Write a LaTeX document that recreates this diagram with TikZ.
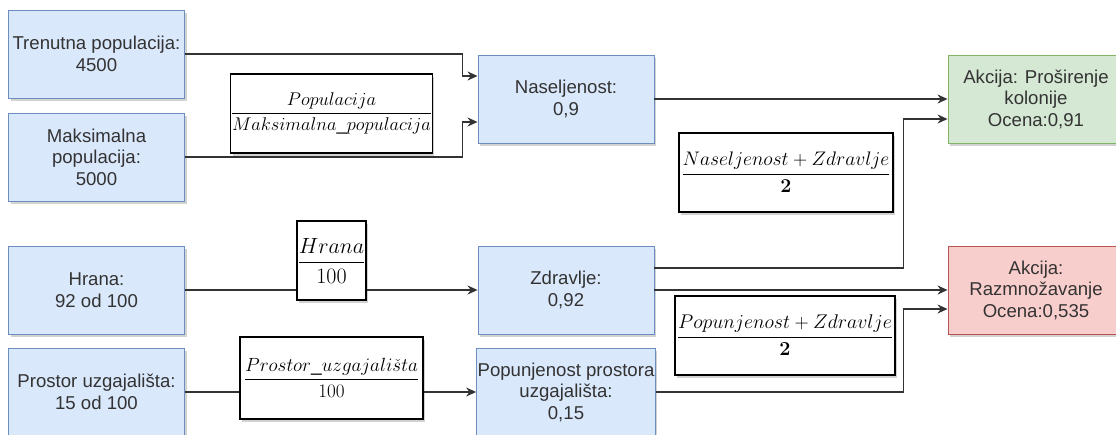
\RequirePackage{fix-cm}
\documentclass[tikz,border=0pt]{standalone}
\usepackage{amsmath}
\usepackage[no-math]{fontspec}
\setmainfont{Liberation Sans}
\usetikzlibrary{arrows.meta,shadows,calc}
\definecolor{bfill}{HTML}{DAE8FC}
\definecolor{bline}{HTML}{6C8EBF}
\definecolor{gfill}{HTML}{D5E8D4}
\definecolor{gline}{HTML}{82B366}
\definecolor{rfill}{HTML}{F8CECC}
\definecolor{rline}{HTML}{B85450}
\definecolor{txt}{HTML}{333333}
\definecolor{lc}{HTML}{333333}
\begin{document}
\begin{tikzpicture}[x=1pt,y=-1pt,
  shad/.style={drop shadow={shadow xshift=2pt,shadow yshift=-3pt,opacity=0.25,fill=black!70}},
  base/.style={shad,minimum width=176pt,minimum height=88pt,inner sep=1pt,align=center,text=txt,font=\fontsize{18.6}{21.5}\selectfont,line width=0.9pt},
  bluebox/.style={base,fill=bfill,draw=bline},
  greenbox/.style={base,fill=gfill,draw=gline},
  redbox/.style={base,fill=rfill,draw=rline},
  fbox/.style={shad,draw=black,fill=white,line width=1.2pt,minimum height=79pt,inner sep=0pt,font=\fontsize{#1}{#1}\selectfont},
  arr/.style={-{Stealth[length=10pt,width=9pt]},line width=1.4pt,draw=lc},
  ln/.style={line width=1.4pt,draw=lc}]
\useasboundingbox (0,0) rectangle (1116,434);
% input boxes
\node[bluebox] (tp) at (96.5,54) {Trenutna populacija:\\4500};
\node[bluebox] (mp) at (96.5,157) {Maksimalna\\populacija:\\5000};
\node[bluebox] (hr) at (96.5,290) {Hrana:\\92 od 100};
\node[bluebox] (pu) at (96.5,392) {Prostor uzgajališta:\\15 od 100};
% middle boxes
\node[bluebox] (nas) at (566,99) {Naseljenost:\\0,9};
\node[bluebox] (zd) at (566,290) {Zdravlje:\\0,92};
\node[bluebox] (pop) at (566,392) {Popunjenost prostora\\uzgajališta:\\0,15};
% action boxes
\node[greenbox] (gr) at (1036,99) {Akcija: Proširenje\\kolonije\\Ocena:0,91};
\node[redbox] (rd) at (1036,290) {Akcija:\\Razmnožavanje\\Ocena:0,535};
% formula boxes
\node[fbox=18.4,minimum width=199pt] (f1) at (331.5,113.5) {$\dfrac{Populacija}{Maksimalna\_populacija}$};
\node[fbox=19.6,minimum width=214pt] (f2) at (786,172.5) {$\dfrac{Naseljenost+Zdravlje}{\mathbf{2}}$};
\node[fbox=22,minimum width=69pt] (f3) at (331.5,260.5) {$\dfrac{Hrana}{100}$};
\node[fbox=19.8,minimum width=220pt] (f4) at (785,335.5) {$\dfrac{Popunjenost+Zdravlje}{\mathbf{2}}$};
\node[fbox=19.1,minimum width=183pt,minimum height=82pt] (f5) at (331.5,378) {$\dfrac{Prostor\_uzgajali\check{s}ta}{100}$};
% connectors
\draw[arr] (tp.east) -| ($(nas.west)+(-15,-23)$) -- ($(nas.west)+(0,-23)$);
\draw[arr] (mp.east) -| ($(nas.west)+(-15,23)$) -- ($(nas.west)+(0,23)$);
\draw[arr] (nas.east) -- (gr.west);
\draw[arr] ($(zd.east)+(0,-22)$) -| ($(gr.west)+(-44,20)$) -- ($(gr.west)+(0,20)$);
\draw[arr] (zd.east) -- (rd.west);
\draw[arr] (pop.east) -| ($(rd.west)+(-44,19)$) -- ($(rd.west)+(0,19)$);
\draw[ln] (hr.east) -- (f3.west |- hr.east);
\draw[arr] (f3.east |- hr.east) -- (zd.west);
\draw[ln] (pu.east) -- (f5.west |- pu.east);
\draw[arr] (f5.east |- pu.east) -- (pop.west);
\end{tikzpicture}
\end{document}
